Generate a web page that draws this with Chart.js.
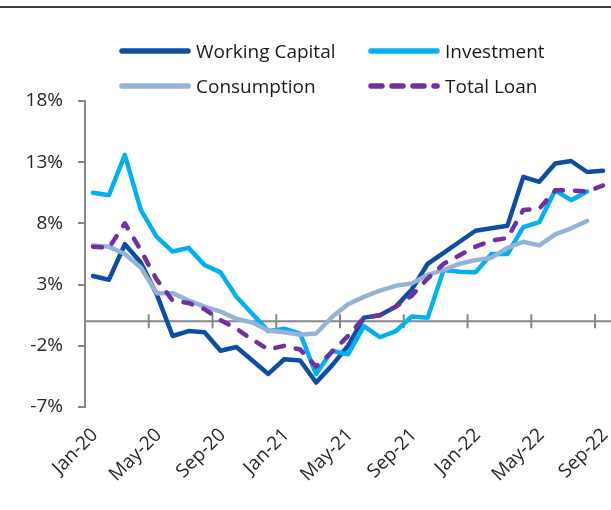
<!DOCTYPE html>
<html>
<head>
<meta charset="utf-8">
<script src="https://cdn.jsdelivr.net/npm/chart.js@4.4.1/dist/chart.umd.min.js"></script>
<style>
  body { margin: 0; background: #fff; }
  #wrap { position: relative; width: 611px; height: 510px; font-family: 'Open Sans', sans-serif; }
  #topline { position: absolute; left: 0; top: 6px; width: 611px; height: 2px; background: #404040; }
  #legend { position: absolute; left: 119px; top: 33px; display: grid; grid-template-columns: 249px auto; grid-auto-rows: 35px; }
  .item { display: flex; align-items: center; font-size: 19px; color: #1a1a1a; }
  .item svg { margin-right: 5px; }
</style>
</head>
<body>
<div id="wrap">
  <div id="topline"></div>
  <div id="legend"></div>
  <canvas id="chart" width="611" height="510"></canvas>
</div>
<script>
// months Jan-20 .. Sep-22
const labels = ['Jan-20','Feb-20','Mar-20','Apr-20','May-20','Jun-20','Jul-20','Aug-20','Sep-20','Oct-20','Nov-20','Dec-20',
  'Jan-21','Feb-21','Mar-21','Apr-21','May-21','Jun-21','Jul-21','Aug-21','Sep-21','Oct-21','Nov-21','Dec-21',
  'Jan-22','Feb-22','Mar-22','Apr-22','May-22','Jun-22','Jul-22','Aug-22','Sep-22'];

// yoy growth, %
const workingCapital = [3.7, 3.4, 6.3, 4.8, 2.2, -1.2, -0.8, -0.9, -2.4, -2.1, -3.2, -4.3,
  -3.1, -3.2, -5.0, -3.6, -2.0, 0.3, 0.5, 1.2, 2.6, 4.7, 5.6, 6.5,
  7.4, 7.6, 7.8, 11.8, 11.4, 12.9, 13.1, 12.2, 12.3];
const investment = [10.5, 10.3, 13.6, 9.1, 6.9, 5.7, 6.0, 4.6, 4.0, 2.0, 0.6, -0.8,
  -0.6, -1.0, -4.3, -2.4, -2.7, -0.4, -1.3, -0.8, 0.4, 0.3, 4.2, 4.05,
  4.0, 5.5, 5.5, 7.7, 8.1, 10.7, 9.9, 10.6, null];
const consumption = [6.2, 6.1, 5.5, 4.4, 2.3, 2.3, 1.7, 1.2, 0.8, 0.2, -0.1, -0.75,
  -0.9, -1.1, -1.0, 0.35, 1.4, 2.0, 2.5, 2.9, 3.1, 3.8, 4.2, 4.7,
  5.0, 5.2, 6.0, 6.5, 6.2, 7.1, 7.6, 8.2, null];
const totalLoan = [6.1, 6.0, 8.0, 5.8, 3.4, 1.7, 1.5, 1.0, 0.1, -0.6, -1.5, -2.3,
  -2.0, -2.3, -3.7, -2.5, -1.2, 0.3, 0.5, 1.2, 2.1, 3.5, 4.7, 5.4,
  6.1, 6.6, 6.8, 9.1, 9.2, 10.7, 10.7, 10.6, 11.1];

const yMin = -7, yMax = 18, yStep = 5;
const axisColor = '#868686';

Chart.defaults.font.family = "'Open Sans', sans-serif";
Chart.defaults.font.size = 19;
Chart.defaults.color = '#262626';

// zero line with tick marks every 4 months (between categories)
const zeroAxis = {
  id: 'zeroAxis',
  beforeDatasetsDraw(chart) {
    const { ctx, chartArea, scales: { x, y } } = chart;
    const y0 = y.getPixelForValue(0);
    const half = (x.getPixelForValue(1) - x.getPixelForValue(0)) / 2;
    ctx.save();
    ctx.strokeStyle = axisColor;
    ctx.lineWidth = 2;
    ctx.beginPath();
    ctx.moveTo(chartArea.left, y0);
    ctx.lineTo(chartArea.right, y0);
    for (let i = 0; i < labels.length; i += 4) {
      const px = x.getPixelForValue(i) - half;
      ctx.moveTo(px, y0 - 7);
      ctx.lineTo(px, y0 + 7);
    }
    ctx.stroke();
    ctx.restore();
  }
};

function series(label, data, color, order, dash) {
  return {
    label, data, order,
    borderColor: color,
    backgroundColor: color,
    borderWidth: 4.5,
    borderDash: dash || [],
    borderCapStyle: 'round',
    borderJoinStyle: 'round',
    pointRadius: 0,
    tension: 0,
    fill: false
  };
}

const chart = new Chart(document.getElementById('chart'), {
  type: 'line',
  data: {
    labels,
    datasets: [
      series('Working Capital', workingCapital, '#0E4DA4', 4),
      series('Investment', investment, '#00B0F0', 3),
      series('Consumption', consumption, '#95B3D7', 2),
      series('Total Loan', totalLoan, '#7030A0', 1, [9, 12])
    ]
  },
  plugins: [zeroAxis],
  options: {
    responsive: false,
    animation: false,
    layout: { padding: { top: 101, right: 0, left: 0, bottom: 0 } },
    plugins: { legend: { display: false }, tooltip: { enabled: false } },
    scales: {
      x: {
        offset: true,
        grid: { display: false },
        border: { display: false },
        ticks: {
          autoSkip: false,
          maxRotation: 45,
          minRotation: 45,
          padding: 9,
          labelOffset: 2,
          callback: (v, i) => (i % 4 === 0 ? labels[i] : '')
        },
        // let the plot run to the right edge, like the original
        afterFit: s => { s.height = 103; s.paddingRight = 0; }
      },
      y: {
        min: yMin,
        max: yMax,
        grid: { drawOnChartArea: false, drawTicks: true, tickLength: 7, color: axisColor, lineWidth: 2 },
        border: { display: true, color: axisColor, width: 2 },
        ticks: { stepSize: yStep, padding: 15, callback: v => v + '%' },
        afterFit: s => { s.width = 85; }
      }
    }
  }
});

// html legend in two columns, built from the datasets
const legendEl = document.getElementById('legend');
chart.data.datasets.forEach(ds => {
  const item = document.createElement('div');
  item.className = 'item';
  const dash = ds.borderDash.length ? 'stroke-dasharray="11 10"' : '';
  item.innerHTML = '<svg width="72" height="10"><line x1="3" y1="5" x2="69" y2="5" stroke="' + ds.borderColor +
    '" stroke-width="5.5" stroke-linecap="round" ' + dash + '/></svg><span>' + ds.label + '</span>';
  legendEl.appendChild(item);
});
</script>
</body>
</html>
